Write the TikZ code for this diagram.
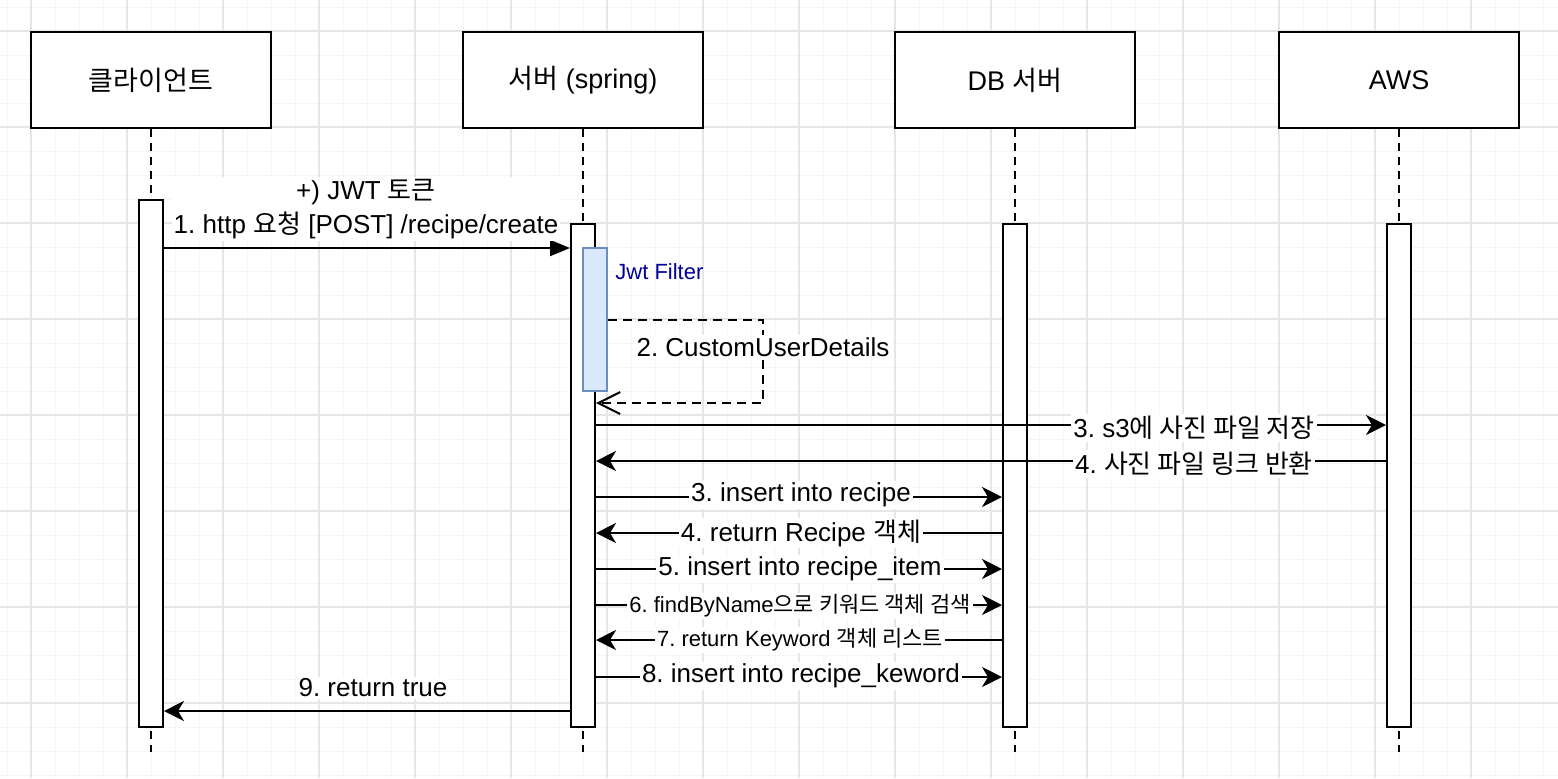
\documentclass[tikz,border=0pt]{standalone}
\usepackage{fontspec}
\setmainfont{Liberation Sans}
\newfontfamily\kr{Noto Sans CJK KR}
\usetikzlibrary{arrows.meta}
\frenchspacing
\definecolor{gridminor}{RGB}{245,245,245}
\definecolor{gridmajor}{RGB}{230,230,230}
\definecolor{jwtfill}{RGB}{218,232,252}
\definecolor{jwtline}{RGB}{108,142,191}
\definecolor{jwttext}{RGB}{0,0,153}
\begin{document}
\begin{tikzpicture}[x=0.5pt,y=-0.5pt,
  actor/.style={draw,line width=1pt,fill=white,minimum width=120pt,minimum height=48pt,inner sep=0pt,font=\fontsize{13.5}{16}\selectfont},
  actbar/.style={draw,line width=1pt,fill=white,minimum width=12pt,inner sep=0pt},
  life/.style={line width=1pt,dash pattern=on 4pt off 3pt},
  msg/.style={line width=1pt,-{Stealth[length=10pt,width=10pt,inset=3pt]}},
  lbl/.style={fill=white,inner sep=1pt,font=\fontsize{13}{16}\selectfont},
  slbl/.style={fill=white,inner sep=1pt,font=\fontsize{11}{13}\selectfont},
]
\fill[white] (0,0) rectangle (1558,778);
\useasboundingbox (0,0) rectangle (1558,778);
% grid
\foreach \i in {7,31,...,1558} {\draw[gridminor,line width=0.5pt] (\i,0) -- (\i,778);}
\foreach \i in {7,31,...,778} {\draw[gridminor,line width=0.5pt] (0,\i) -- (1558,\i);}
\foreach \i in {31,127,...,1558} {\draw[gridmajor,line width=0.7pt] (\i,0) -- (\i,778);}
\foreach \i in {31,127,...,778} {\draw[gridmajor,line width=0.7pt] (0,\i) -- (1558,\i);}

% actors
\node[actor] (cli) at (151,80) {\kr 클라이언트};
\node[actor] (srv) at (583,80) {{\kr 서버} (spring)};
\node[actor] (db) at (1015,80) {DB {\kr 서버}};
\node[actor] (aws) at (1399,80) {AWS};

% lifelines
\coordinate (cliEnd) at (151,752);
\coordinate (srvEnd) at (583,752);
\coordinate (dbEnd) at (1015,752);
\coordinate (awsEnd) at (1399,752);
\draw[life] (cli.south) -- (cliEnd);
\draw[life] (srv.south) -- (srvEnd);
\draw[life] (db.south) -- (dbEnd);
\draw[life] (aws.south) -- (awsEnd);

% activation bars
\node[actbar,minimum height=263.5pt] (actC) at (151,463.5) {};
\node[actbar,minimum height=251.5pt] (actS) at (583,475.5) {};
\node[actbar,minimum height=251.5pt] (actD) at (1015,475.5) {};
\node[actbar,minimum height=251.5pt] (actA) at (1399,475.5) {};
\node[draw=jwtline,fill=jwtfill,line width=0.8pt,minimum width=12pt,minimum height=71.5pt,inner sep=0pt] (jwt) at (595,319.5) {};
\node[anchor=west,text=jwttext,font=\fontsize{11}{13}\selectfont,inner sep=0pt] (jwtlbl) at (615,272) {Jwt Filter};

% message 1
\draw[line width=1pt,-{Triangle[length=10pt,width=8pt]}] (actC.east |- 0,248) -- (actS.west |- 0,248);
\node[lbl,align=center,font=\fontsize{13}{17}\selectfont] (l1) at (366,209) {+) JWT {\kr 토큰}\\1. http {\kr 요청} [POST] /recipe/create};

% message 2 (self, dashed return)
\coordinate (sc1) at (763,320);
\coordinate (sc2) at (763,403);
\draw[line width=1pt,dash pattern=on 4.5pt off 3pt,-{Straight Barb[length=11pt,width=11pt]}] (jwt.east |- 0,320) -- (sc1) -- (sc2) -- (actS.east |- 0,403);
\node[lbl] (l2) at (763,347) {2. CustomUserDetails};

% AWS messages
\draw[msg] (actS.east |- 0,425) -- (actA.west |- 0,425);
\node[lbl] (l3a) at (1194,428) {3. s3{\kr 에 사진 파일 저장}};
\draw[msg] (actA.west |- 0,461) -- (actS.east |- 0,461);
\node[lbl] (l4a) at (1194,464) {4. {\kr 사진 파일 링크 반환}};

% DB messages
\draw[msg] (actS.east |- 0,497) -- (actD.west |- 0,497);
\node[lbl] (l3) at (801,495) {3. insert into recipe};
\draw[msg] (actD.west |- 0,533) -- (actS.east |- 0,533);
\node[lbl] (l4) at (801,533) {4. return Recipe {\kr 객체}};
\draw[msg] (actS.east |- 0,569) -- (actD.west |- 0,569);
\node[lbl] (l5) at (800,569) {5. insert into recipe\_item};
\draw[msg] (actS.east |- 0,605) -- (actD.west |- 0,605);
\node[slbl] (l6) at (800,606) {6. findByName{\kr 으로 키워드 객체 검색}};
\draw[msg] (actD.west |- 0,640) -- (actS.east |- 0,640);
\node[slbl] (l7) at (800,640) {7. return Keyword {\kr 객체 리스트}};
\draw[msg] (actS.east |- 0,677) -- (actD.west |- 0,677);
\node[lbl] (l8) at (801,676) {8. insert into recipe\_keword};

% message 9
\draw[msg] (actS.west |- 0,711) -- (actC.east |- 0,711);
\node[lbl] (l9) at (373,688) {9. return true};
\end{tikzpicture}
\end{document}
